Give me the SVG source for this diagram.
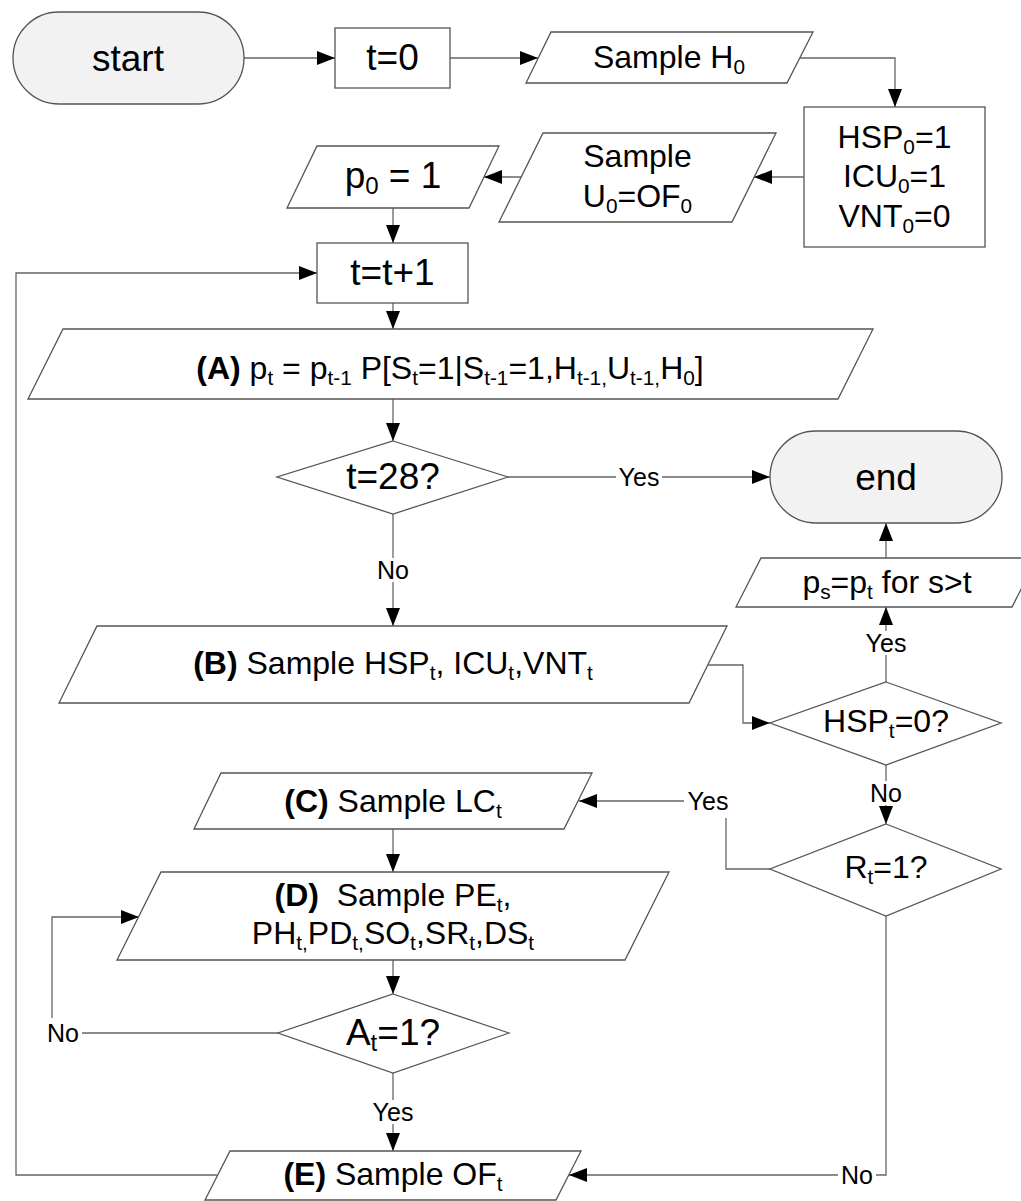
<svg xmlns="http://www.w3.org/2000/svg" width="1021" height="1201" viewBox="0 0 1021 1201">
  <defs>
    <marker id="arrow" markerUnits="userSpaceOnUse" markerWidth="19" markerHeight="14" refX="18" refY="7" orient="auto">
      <path d="M0,0 L18,7 L0,14 z" fill="#000"/>
    </marker>
    <style>
      text { font-family: "Liberation Sans", Arial, sans-serif; fill: #000; text-anchor: middle; }
      .shape { fill: #fff; stroke: #555; stroke-width: 1.3; }
      .term { fill: #f2f2f2; stroke: #555; stroke-width: 1.3; }
      .big { font-size: 37px; }
      .mid { font-size: 32px; }
      .lbl { font-size: 25px; }
      .sub { font-size: 65%; baseline-shift: -0.27em; }
      .b { font-weight: bold; }
      .conn { fill: none; stroke: #666; stroke-width: 1.3; marker-end: url(#arrow); }
      .bg { fill: #fff; stroke: none; }
    </style>
  </defs>
  <rect width="1021" height="1201" fill="#fff"/>

  <!-- connectors -->
  <g id="connectors">
    <path class="conn" d="M244,58 H335"/>
    <path class="conn" d="M450,58 H538"/>
    <path class="conn" d="M800,58 H895 V107"/>
    <path class="conn" d="M804,177 H754"/>
    <path class="conn" d="M521,177 H484"/>
    <path class="conn" d="M393,208 V243"/>
    <path class="conn" d="M393,303 V329"/>
    <path class="conn" d="M393,399 V441"/>
    <path class="conn" d="M508,477 H770"/>
    <path class="conn" d="M393,514 V626"/>
    <path class="conn" d="M708,665 H743 V723 H770"/>
    <path class="conn" d="M886,682 V607"/>
    <path class="conn" d="M886,558 V523"/>
    <path class="conn" d="M886,765 V824"/>
    <path class="conn" d="M770,869 H726 V801 H579"/>
    <path class="conn" d="M393,829 V872"/>
    <path class="conn" d="M393,960 V994"/>
    <path class="conn" d="M278,1033 H52 V917 H139"/>
    <path class="conn" d="M393,1073 V1151"/>
    <path class="conn" d="M886,916 V1175 H569"/>
    <path class="conn" d="M217,1175 H16 V273 H317"/>

    <!-- branch labels -->
    <rect class="bg" x="616" y="465" width="46" height="24"/>
    <text class="lbl" x="639" y="486">Yes</text>
    <rect class="bg" x="376" y="558" width="34" height="24"/>
    <text class="lbl" x="393" y="579">No</text>
    <rect class="bg" x="863" y="631" width="46" height="24"/>
    <text class="lbl" x="886" y="652">Yes</text>
    <rect class="bg" x="869" y="781" width="34" height="24"/>
    <text class="lbl" x="886" y="802">No</text>
    <rect class="bg" x="684" y="788" width="48" height="30"/>
    <text class="lbl" x="708" y="810">Yes</text>
    <rect class="bg" x="44" y="1018" width="38" height="30"/>
    <text class="lbl" x="63" y="1042">No</text>
    <rect class="bg" x="370" y="1100" width="46" height="24"/>
    <text class="lbl" x="393" y="1121">Yes</text>
    <rect class="bg" x="838" y="1163" width="38" height="24"/>
    <text class="lbl" x="857" y="1184">No</text>
  </g>

  <g id="start">
    <rect class="term" x="13" y="12" width="231" height="92" rx="46"/>
    <text class="big" x="128" y="71">start</text>
  </g>

  <g id="t0">
    <rect class="shape" x="335" y="28" width="115" height="60"/>
    <text class="big" x="392.5" y="70">t=0</text>
  </g>

  <g id="sampleH0">
    <polygon class="shape" points="551,32 813,32 787,83 526,83"/>
    <text class="mid" x="669" y="68">Sample H<tspan class="sub">0</tspan></text>
  </g>

  <g id="init">
    <rect class="shape" x="804" y="107" width="181" height="140"/>
    <text class="mid" x="894.5" y="148">HSP<tspan class="sub">0</tspan>=1</text>
    <text class="mid" x="894.5" y="187">ICU<tspan class="sub">0</tspan>=1</text>
    <text class="mid" x="894.5" y="227">VNT<tspan class="sub">0</tspan>=0</text>
  </g>

  <g id="sampleU0">
    <polygon class="shape" points="543,133 776,133 732,222 499,222"/>
    <text class="mid" x="637.5" y="167">Sample</text>
    <text class="mid" x="637.5" y="207">U<tspan class="sub">0</tspan>=OF<tspan class="sub">0</tspan></text>
  </g>

  <g id="p0">
    <polygon class="shape" points="317,146 499,146 469,208 287,208"/>
    <text class="big" x="393" y="188">p<tspan class="sub">0</tspan> = 1</text>
  </g>

  <g id="tinc">
    <rect class="shape" x="317" y="243" width="151" height="60"/>
    <text class="big" x="392.5" y="285">t=t+1</text>
  </g>

  <g id="stepA">
    <polygon class="shape" points="63,329 873,329 838,399 28,399"/>
    <text class="mid" x="450" y="379"><tspan class="b">(A)</tspan> p<tspan class="sub">t</tspan> = p<tspan class="sub">t-1</tspan> P[S<tspan class="sub">t</tspan>=1|S<tspan class="sub">t-1</tspan>=1,H<tspan class="sub">t-1,</tspan>U<tspan class="sub">t-1,</tspan>H<tspan class="sub">0</tspan>]</text>
  </g>

  <g id="t28">
    <polygon class="shape" points="393,441 508,477 393,514 277,477"/>
    <text class="big" x="393" y="489">t=28?</text>
  </g>

  <g id="end">
    <rect class="term" x="770" y="431" width="232" height="92" rx="46"/>
    <text class="big" x="886" y="490">end</text>
  </g>

  <g id="ps">
    <polygon class="shape" points="761,558 1037,558 1012,607 736,607"/>
    <text class="mid" x="887" y="593">p<tspan class="sub">s</tspan>=p<tspan class="sub">t</tspan> for s&gt;t</text>
  </g>

  <g id="stepB">
    <polygon class="shape" points="97,626 727,626 689,703 59,703"/>
    <text class="mid" x="393" y="674"><tspan class="b">(B)</tspan> Sample HSP<tspan class="sub">t</tspan>, ICU<tspan class="sub">t</tspan>,VNT<tspan class="sub">t</tspan></text>
  </g>

  <g id="hsp0">
    <polygon class="shape" points="886,682 1001,723 886,765 770,723"/>
    <text class="mid" x="886" y="732">HSP<tspan class="sub">t</tspan>=0?</text>
  </g>

  <g id="r1">
    <polygon class="shape" points="886,824 1001,869 886,916 770,869"/>
    <text class="mid" x="886" y="878">R<tspan class="sub">t</tspan>=1?</text>
  </g>

  <g id="stepC">
    <polygon class="shape" points="221,773 592,773 564,829 194,829"/>
    <text class="mid" x="393" y="812"><tspan class="b">(C)</tspan> Sample LC<tspan class="sub">t</tspan></text>
  </g>

  <g id="stepD">
    <polygon class="shape" points="161,872 669,872 625,960 117,960"/>
    <text class="mid" x="393" y="906" xml:space="preserve"><tspan class="b">(D)</tspan>  Sample PE<tspan class="sub">t</tspan>,</text>
    <text class="mid" x="393" y="944">PH<tspan class="sub">t,</tspan>PD<tspan class="sub">t,</tspan>SO<tspan class="sub">t</tspan>,SR<tspan class="sub">t</tspan>,DS<tspan class="sub">t</tspan></text>
  </g>

  <g id="a1">
    <polygon class="shape" points="393,994 509,1033 393,1073 278,1033"/>
    <text class="big" x="393" y="1045">A<tspan class="sub">t</tspan>=1?</text>
  </g>

  <g id="stepE">
    <polygon class="shape" points="230,1151 581,1151 556,1200 205,1200"/>
    <text class="mid" x="393" y="1185"><tspan class="b">(E)</tspan> Sample OF<tspan class="sub">t</tspan></text>
  </g>
</svg>
